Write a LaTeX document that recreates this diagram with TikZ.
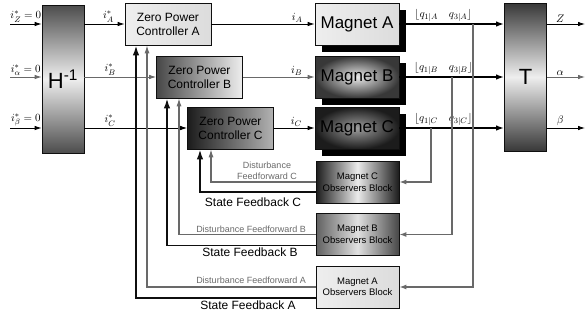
\documentclass[tikz,border=0pt]{standalone}
\usepackage{amsmath, amssymb}
\usepackage[no-math]{fontspec}
\setmainfont{Liberation Sans}
\usetikzlibrary{calc, arrows.meta, shadows}
\definecolor{ink}{RGB}{15,15,15}
\definecolor{wire}{RGB}{105,105,105}
\definecolor{pale}{RGB}{238,238,238}
\definecolor{smoke}{RGB}{220,220,220}
\definecolor{coal}{RGB}{28,28,28}

\tikzset{
  box/.style={draw=ink, line width=0.7pt, inner sep=0pt, align=center},
  bar/.style={box, minimum width=42pt, minimum height=148pt, font=\fontsize{22}{24}\selectfont},
  ctl/.style={box, minimum width=86pt, minimum height=42pt, font=\fontsize{12}{14}\selectfont},
  mag/.style={box, minimum width=84pt, minimum height=42pt, font=\fontsize{17}{19}\selectfont,
    drop shadow={fill=black, opacity=1, shadow xshift=7pt, shadow yshift=-7pt}},
  obs/.style={box, minimum width=83pt, minimum height=42pt, font=\fontsize{9.5}{11.5}\selectfont},
  sig/.style={-{Latex[length=7pt,width=4.5pt]}, line width=0.8pt},
  vec/.style={-{Latex[length=8pt,width=5.5pt]}, line width=1.8pt},
  tap/.style={wire, line width=1.3pt, -{Latex[length=7pt,width=5pt]}},
  sfb/.style={ink, line width=1.8pt, -{Latex[length=10pt,width=6.5pt]}},
  dff/.style={wire, line width=1.1pt, -{Latex[length=8pt,width=5pt]}},
  lbl/.style={text=black, font=\fontsize{11}{12}\selectfont, inner sep=1.5pt},
  note/.style={wire, font=\fontsize{9}{11}\selectfont, align=center, inner sep=0pt},
  fbk/.style={font=\fontsize{12}{14}\selectfont, inner sep=0pt}
}

\begin{document}
\begin{tikzpicture}[x=1pt, y=-1pt]
  \useasboundingbox (0,0) rectangle (586,322);

  % Transformation blocks
  \node[bar, top color=black!70, bottom color=black!70, middle color=pale] (Hinv) at (63,79) {H\textsuperscript{-1}};
  \node[bar, top color=black!78, bottom color=black!78, middle color=pale] (Tmat) at (525.5,77) {T};

  % Zero power controllers
  \node[ctl, left color=pale, right color=smoke] (ctlA) at (168,24) {Zero Power\\Controller A};
  \node[ctl, left color=black!72, right color=pale] (ctlB) at (199.5,77) {Zero Power\\Controller B};
  \node[ctl, left color=coal, right color=black!30] (ctlC) at (230.5,128) {Zero Power\\Controller C};

  % Magnets
  \node[mag, left color=pale, right color=smoke] (magA) at (357,24) {Magnet A};
  \node[mag, inner color=black!8, outer color=black!78] (magB) at (357,77) {Magnet B};
  \node[mag, inner color=black!38, outer color=coal] (magC) at (357,128) {Magnet C};

  % Observers
  \node[obs, left color=coal, right color=coal, middle color=black!8] (obsC) at (357.5,182) {Magnet C\\Observers Block};
  \node[obs, left color=black!62, right color=black!72, middle color=black!12] (obsB) at (357.5,234.5) {Magnet B\\Observers Block};
  \node[obs, left color=pale, right color=smoke] (obsA) at (357.5,287) {Magnet A\\Observers Block};

  % Free ends
  \coordinate (inZ) at (10,24);
  \coordinate (inA) at (10,77);
  \coordinate (inB) at (10,128);
  \coordinate (outZ) at (585,24);
  \coordinate (outA) at (585,77);
  \coordinate (outB) at (585,128);

  % Reference currents
  \draw[sig] (inZ) -- node[lbl, above] {$i_Z^*=0$} (inZ -| Hinv.west);
  \draw[sig, wire] (inA) -- node[lbl, above] {$i_\alpha^*=0$} (inA -| Hinv.west);
  \draw[sig] (inB) -- node[lbl, above] {$i_\beta^*=0$} (inB -| Hinv.west);
  \draw[sig] (Hinv.east |- ctlA) -- node[lbl, above, pos=0.6] {$i_A^*$} (ctlA.west);
  \draw[sig, wire] (Hinv.east |- ctlB) -- node[lbl, above, pos=0.36] {$i_B^*$} (ctlB.west);
  \draw[sig] (Hinv.east |- ctlC) -- node[lbl, above, pos=0.25] {$i_C^*$} (ctlC.west);

  % Coil currents
  \draw[sig] (ctlA.east) -- node[lbl, above, pos=0.83] {$i_A$} (magA.west);
  \draw[sig, wire] (ctlB.east) -- node[lbl, above, pos=0.75] {$i_B$} (magB.west);
  \draw[sig] (ctlC.east) -- node[lbl, above, pos=0.55] {$i_C$} (magC.west);

  % Magnet states
  \draw[vec] (magA.east) -- node[lbl, above, pos=0.42] {$\lfloor q_{1|A}\quad q_{3|A}\rfloor$} (Tmat.west |- magA);
  \draw[vec] (magB.east) -- node[lbl, above, pos=0.42] {$\lfloor q_{1|B}\quad q_{3|B}\rfloor$} (Tmat.west |- magB);
  \draw[vec] (magC.east) -- node[lbl, above, pos=0.42] {$\lfloor q_{1|C}\quad q_{3|C}\rfloor$} (Tmat.west |- magC);

  % Outputs
  \draw[sig] (Tmat.east |- outZ) -- node[lbl, above, pos=0.35] {$Z$} (outZ);
  \draw[sig, wire] (Tmat.east |- outA) -- node[lbl, above, pos=0.35] {$\alpha$} (outA);
  \draw[sig] (Tmat.east |- outB) -- node[lbl, above, pos=0.35] {$\beta$} (outB);

  % Taps to observers
  \coordinate (tapA) at (473,24);
  \coordinate (tapB) at (452,77);
  \coordinate (tapC) at (431,128);
  \draw[tap] (tapA) |- (obsA.east);
  \draw[tap] (tapB) |- (obsB.east);
  \draw[tap] (tapC) |- (obsC.east);

  % Feedback to controllers
  \draw[dff] (obsC.west) -| ([xshift=-19.5pt]ctlC.south);
  \draw[sfb] ([yshift=-10pt]obsC.west) -| ([xshift=-30.5pt]ctlC.south);
  \draw[dff] (obsB.west) -| ([xshift=-20.5pt]ctlB.south);
  \draw[sfb] ([yshift=-11pt]obsB.west) -| ([xshift=-32.5pt]ctlB.south);
  \draw[dff] (obsA.west) -| ([xshift=-21pt]ctlA.south);
  \draw[sfb] ([yshift=-11pt]obsA.west) -| ([xshift=-32pt]ctlA.south);

  % Feedback names
  \node[note] (ffC) at (267,171) {Disturbance\\Feedforward C};
  \node[fbk] (fbC) at (253,202) {State Feedback C};
  \node[note, anchor=east] (ffB) at (306,229) {Disturbance Feedforward B};
  \node[fbk] (fbB) at (250,252) {State Feedback B};
  \node[note, anchor=east] (ffA) at (306,280) {Disturbance Feedforward A};
  \node[fbk] (fbA) at (248,305) {State Feedback A};
\end{tikzpicture}
\end{document}
